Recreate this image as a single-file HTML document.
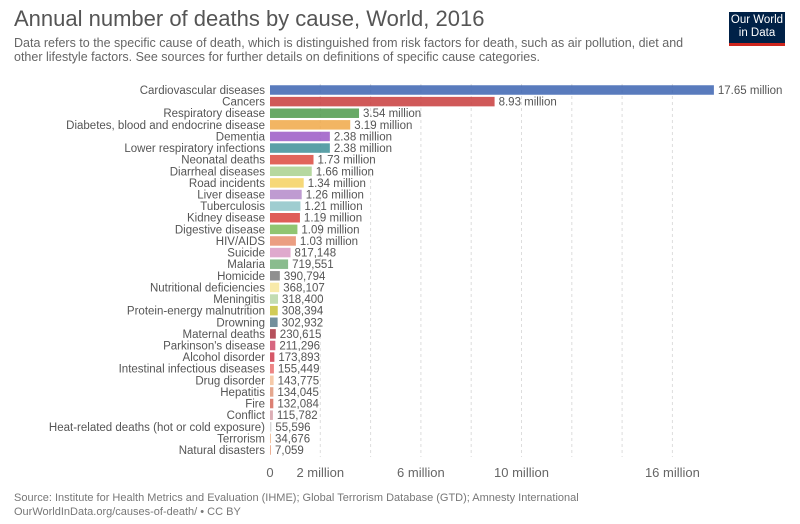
<!DOCTYPE html>
<html><head><meta charset="utf-8"><style>
body{margin:0;background:#fff;font-family:"Liberation Sans",sans-serif;}
#w{position:relative;width:800px;height:524px;overflow:hidden}
.t{position:absolute;white-space:nowrap}
</style></head><body>
<div id="w">
<div class="t" style="left:14px;top:6px;font-size:22px;color:#555">Annual number of deaths by cause, World, 2016</div>
<div class="t" style="left:14px;top:36px;font-size:12.5px;color:#666;line-height:14px">Data refers to the specific cause of death, which is distinguished from risk factors for death, such as air pollution, diet and<br>other lifestyle factors. See sources for further details on definitions of specific cause categories.</div>
<div style="position:absolute;left:729px;top:12px;width:56px;height:34px;background:#002147;border-bottom:3px solid #ce261e;color:#fff;font-size:11.5px;line-height:13px;text-align:center;padding-top:2px;box-sizing:border-box">Our World<br>in Data</div>
<svg id="c" width="800" height="524" style="position:absolute;left:0;top:0"></svg>
<div class="t" style="left:14px;top:491px;font-size:11px;color:#777;line-height:14px">Source: Institute for Health Metrics and Evaluation (IHME); Global Terrorism Database (GTD); Amnesty International<br>OurWorldInData.org/causes-of-death/ • CC BY</div>
</div>
<script>
const categories=["Cardiovascular diseases","Cancers","Respiratory disease","Diabetes, blood and endocrine disease","Dementia","Lower respiratory infections","Neonatal deaths","Diarrheal diseases","Road incidents","Liver disease","Tuberculosis","Kidney disease","Digestive disease","HIV/AIDS","Suicide","Malaria","Homicide","Nutritional deficiencies","Meningitis","Protein-energy malnutrition","Drowning","Maternal deaths","Parkinson's disease","Alcohol disorder","Intestinal infectious diseases","Drug disorder","Hepatitis","Fire","Conflict","Heat-related deaths (hot or cold exposure)","Terrorism","Natural disasters"];
const values=[17650000,8930000,3540000,3190000,2380000,2380000,1730000,1660000,1340000,1260000,1210000,1190000,1090000,1030000,817148,719551,390794,368107,318400,308394,302932,230615,211296,173893,155449,143775,134045,132084,115782,55596,34676,7059];
const valueLabels=["17.65 million","8.93 million","3.54 million","3.19 million","2.38 million","2.38 million","1.73 million","1.66 million","1.34 million","1.26 million","1.21 million","1.19 million","1.09 million","1.03 million","817,148","719,551","390,794","368,107","318,400","308,394","302,932","230,615","211,296","173,893","155,449","143,775","134,045","132,084","115,782","55,596","34,676","7,059"];
const colors=["#3c64b1","#c83c3c","#4e9a4b","#f0a848","#9b59c6","#3e8f98","#dc4a3e","#a9d18e","#f5d160","#b48ac9","#8ec4c8","#d9413b","#7cbb58","#e88d6c","#d99ac4","#76b07a","#7d7d7d","#f7e69a","#b7d6a4","#c9c23a","#5a7d8c","#a8333f","#d04b6a","#cf3a4c","#e97070","#f5c19a","#e0987a","#d66a5a","#d6a0a8","#cfcfcf","#f0b890","#e8a080"];
const ticks=[0,2e6,6e6,10e6,16e6];
const tickLabels=["0","2 million","6 million","10 million","16 million"];
const grid=[2e6,4e6,6e6,8e6,10e6,12e6,14e6,16e6];
const x0=270,pxPerUnit=25.15/1e6,y0=90,step=(450-90)/31,bh=9.5;
const X=v=>x0+v*pxPerUnit, Y=i=>y0+i*step;
const svg=document.getElementById('c'),NS="http://www.w3.org/2000/svg";
function mk(t,a){const e=document.createElementNS(NS,t);for(const k in a)e.setAttribute(k,a[k]);svg.appendChild(e);return e;}
grid.forEach(g=>{const l=mk('line',{x1:X(g),x2:X(g),y1:84,y2:457,stroke:'#ddd','stroke-dasharray':'3,3'});

});
ticks.forEach((t,i)=>{const e=mk('text',{x:X(t),y:477,'text-anchor':'middle','font-size':13,fill:'#666','font-family':'Liberation Sans'});e.textContent=tickLabels[i];

});
categories.forEach((c,i)=>{const y=Y(i);
const l=mk('text',{x:265,y:y+4,'text-anchor':'end','font-size':11.5,fill:'#555','font-family':'Liberation Sans'});l.textContent=c;


const w=Math.max(1,X(values[i])-x0);
const r=mk('rect',{x:x0,y:y-bh/2,width:w,height:bh,fill:colors[i],opacity:0.85});


const v=mk('text',{x:x0+w+4,y:y+4,'font-size':11.5,fill:'#555','font-family':'Liberation Sans'});v.textContent=valueLabels[i];

});
</script>
</body></html>
